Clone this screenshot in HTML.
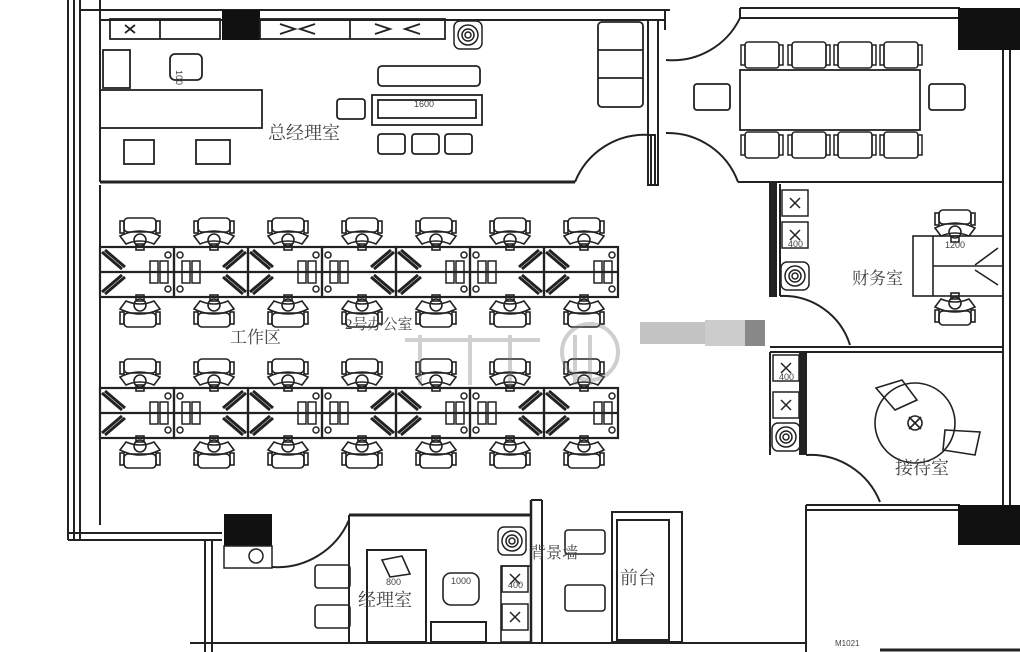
<!DOCTYPE html>
<html><head><meta charset="utf-8"><style>
html,body{margin:0;padding:0;background:#fff;}
svg{display:block;}
text{font-family:"Liberation Serif","Noto Serif CJK SC","Noto Sans CJK SC",serif;fill:#444;}
</style></head><body>
<svg width="1020" height="652" viewBox="0 0 1020 652" xmlns="http://www.w3.org/2000/svg">
<defs>
<g id="chU" fill="none" stroke="#222" stroke-width="1.6">
<rect x="-16" y="0" width="32" height="14" rx="4"/>
<rect x="-20" y="3" width="4" height="12"/><rect x="16" y="3" width="4" height="12"/>
<path d="M-20 18 Q0 8 20 18 L14 26 Q0 20 -14 26 Z"/>
<circle cx="0" cy="22" r="6"/>
<rect x="-4" y="26" width="8" height="6"/>
</g>
<g id="unit" fill="none" stroke="#222" stroke-width="2.2">
<rect x="0" y="0" width="74" height="50"/>
<line x1="0" y1="25" x2="74" y2="25"/>
<path d="M2 5 L22 22 M2 45 L22 28 M5 3 L25 20 M5 47 L25 30" stroke-width="3"/>
<rect x="50" y="14" width="8" height="22" stroke-width="1.5"/><rect x="60" y="14" width="8" height="22" stroke-width="1.5"/>
<circle cx="68" cy="8" r="3" stroke-width="1.5"/><circle cx="68" cy="42" r="3" stroke-width="1.5"/>
</g>
<g id="unit2" fill="none" stroke="#222" stroke-width="2.2">
<rect x="0" y="0" width="74" height="50"/>
<line x1="0" y1="25" x2="74" y2="25"/>
<path d="M72 5 L52 22 M72 45 L52 28 M69 3 L49 20 M69 47 L49 30" stroke-width="3"/>
<rect x="8" y="14" width="8" height="22" stroke-width="1.5"/><rect x="18" y="14" width="8" height="22" stroke-width="1.5"/>
<circle cx="6" cy="8" r="3" stroke-width="1.5"/><circle cx="6" cy="42" r="3" stroke-width="1.5"/>
</g>
<g id="cab" fill="none" stroke="#222" stroke-width="1.5">
<rect x="0" y="0" width="26" height="26"/><path d="M8 8 L18 18 M18 8 L8 18"/>
</g>
<g id="plant" fill="none" stroke="#222" stroke-width="1.5">
<rect x="-14" y="-14" width="28" height="28" rx="6"/><circle r="10"/><circle r="6"/><circle r="3"/>
</g>
<g id="sq" fill="none" stroke="#222" stroke-width="1.5">
<rect x="0" y="0" width="34" height="26" rx="3"/><rect x="-4" y="3" width="4" height="20"/><rect x="34" y="3" width="4" height="20"/>
</g>
</defs>

<g fill="none" stroke="#222" stroke-width="2">
<line x1="68" y1="0" x2="68" y2="540"/><line x1="74" y1="0" x2="74" y2="540"/><line x1="80" y1="0" x2="80" y2="540"/>
<line x1="100" y1="0" x2="100" y2="182"/><line x1="100" y1="185" x2="100" y2="525"/>
<line x1="68" y1="540" x2="222" y2="540"/><line x1="68" y1="533" x2="222" y2="533"/>
<line x1="80" y1="10" x2="670" y2="10"/><line x1="100" y1="20" x2="665" y2="20"/>
<line x1="665" y1="10" x2="665" y2="30"/>
<line x1="100" y1="182" x2="575" y2="182" stroke-width="3"/>
<path d="M575 182 A75 75 0 0 1 650 135"/>
<rect x="648" y="20" width="10" height="165" stroke-width="2"/>
<rect x="651" y="135" width="4" height="50"/>
<line x1="740" y1="8" x2="960" y2="8"/><line x1="740" y1="18" x2="960" y2="18"/>
<path d="M666 60 A75 75 0 0 0 740 18"/>
<line x1="740" y1="18" x2="740" y2="8"/>
<line x1="1003" y1="50" x2="1003" y2="505"/><line x1="1010" y1="50" x2="1010" y2="505"/>
<path d="M666 133 A75 75 0 0 1 738 182"/>
<line x1="738" y1="182" x2="1003" y2="182"/>
<rect x="770" y="184" width="6" height="112" fill="#222"/>
<line x1="780" y1="184" x2="780" y2="296"/>
<path d="M780 296 A70 70 0 0 1 850 345"/>
<line x1="770" y1="347" x2="1003" y2="347"/><line x1="770" y1="352" x2="1003" y2="352"/>
<line x1="770" y1="352" x2="770" y2="455"/>
<rect x="800" y="352" width="6" height="102" fill="#222"/>
<path d="M806 455 A75 75 0 0 1 880 502"/>
<line x1="806" y1="505" x2="960" y2="505"/><line x1="806" y1="510" x2="960" y2="510"/>
<line x1="806" y1="505" x2="806" y2="652"/>
<!-- bottom -->
<line x1="205" y1="540" x2="205" y2="652"/><line x1="212" y1="540" x2="212" y2="652"/>
<path d="M272 567 A78 78 0 0 0 349 520"/>
<line x1="349" y1="515" x2="531" y2="515" stroke-width="3"/>
<line x1="349" y1="515" x2="349" y2="642"/>
<line x1="531" y1="500" x2="531" y2="642" stroke-width="2.5"/><line x1="542" y1="500" x2="542" y2="642"/>
<line x1="531" y1="500" x2="542" y2="500"/>
<line x1="190" y1="643" x2="805" y2="643"/>
<rect x="612" y="512" width="70" height="130"/><rect x="617" y="520" width="52" height="120"/>
<rect x="367" y="550" width="59" height="92"/>
<rect x="431" y="622" width="55" height="20"/>
</g>

<rect x="222" y="10" width="38" height="30" fill="#111"/>
<rect x="958" y="8" width="62" height="42" fill="#111"/>
<rect x="958" y="505" width="62" height="40" fill="#111"/>
<rect x="224" y="514" width="48" height="32" fill="#111"/>
<rect x="224" y="546" width="48" height="22" fill="none" stroke="#222" stroke-width="1.5"/>
<circle cx="256" cy="556" r="7" fill="none" stroke="#222" stroke-width="1.5"/>

<g fill="none" stroke="#222" stroke-width="1.8">
<rect x="110" y="19" width="110" height="20"/><line x1="160" y1="19" x2="160" y2="39"/>
<rect x="260" y="19" width="185" height="20"/><line x1="350" y1="19" x2="350" y2="39"/>
<path d="M280 24 L295 29 L280 34 M315 24 L300 29 L315 34 M375 24 L390 29 L375 34 M420 24 L405 29 L420 34 M125 25 L135 33 M135 25 L125 33"/>
<rect x="103" y="50" width="27" height="38"/>
<rect x="100" y="90" width="162" height="38"/>
<rect x="170" y="54" width="32" height="26" rx="5"/>
<rect x="124" y="140" width="30" height="24"/><rect x="196" y="140" width="34" height="24"/>
<rect x="378" y="66" width="102" height="20" rx="4"/>
<rect x="372" y="95" width="110" height="30"/><rect x="378" y="100" width="98" height="18"/>
<rect x="337" y="99" width="28" height="20" rx="3"/>
<rect x="378" y="134" width="27" height="20" rx="3"/><rect x="412" y="134" width="27" height="20" rx="3"/><rect x="445" y="134" width="27" height="20" rx="3"/>
<rect x="598" y="22" width="45" height="85" rx="4"/><line x1="598" y1="50" x2="643" y2="50"/><line x1="598" y1="78" x2="643" y2="78"/>
</g>
<use href="#plant" x="468" y="35"/>
<text x="180" y="74" font-size="9" transform="rotate(90 180 70)" style="font-family:'Liberation Sans',sans-serif">100</text>
<text x="414" y="107" font-size="9" style="font-family:'Liberation Sans',sans-serif">1600</text>
<text x="268" y="139" font-size="18">总经理室</text>

<g fill="none" stroke="#222" stroke-width="1.8">
<rect x="740" y="70" width="180" height="60"/>
<use href="#sq" x="745" y="42"/><use href="#sq" x="792" y="42"/><use href="#sq" x="838" y="42"/><use href="#sq" x="884" y="42"/>
<use href="#sq" x="745" y="132"/><use href="#sq" x="792" y="132"/><use href="#sq" x="838" y="132"/><use href="#sq" x="884" y="132"/>
<rect x="694" y="84" width="36" height="26" rx="3"/><rect x="929" y="84" width="36" height="26" rx="3"/>
</g>

<use href="#cab" x="782" y="190"/><use href="#cab" x="782" y="222"/>
<use href="#plant" x="795" y="276"/>
<g fill="none" stroke="#222" stroke-width="1.6">
<rect x="913" y="236" width="90" height="60"/><line x1="933" y1="236" x2="933" y2="296"/><line x1="933" y1="266" x2="1003" y2="266"/>
<path d="M975 265 L998 248 M975 270 L998 285"/>
</g>
<use href="#chU" x="955" y="210"/>
<use href="#chU" transform="translate(955 325) scale(1 -1)"/>
<text x="788" y="247" font-size="9" style="font-family:'Liberation Sans',sans-serif">400</text>
<text x="945" y="248" font-size="9" style="font-family:'Liberation Sans',sans-serif">1200</text>
<text x="852" y="284" font-size="17">财务室</text>

<use href="#cab" x="773" y="355"/><use href="#cab" x="773" y="392"/>
<use href="#plant" x="786" y="437"/>
<g fill="none" stroke="#222" stroke-width="1.6">
<circle cx="915" cy="423" r="40"/><circle cx="915" cy="423" r="7"/><path d="M909 417 L921 429 M921 417 L909 429"/>
<path d="M876 388 L902 380 L917 400 L895 410 Z"/>
<path d="M945 430 L980 432 L975 455 L943 450 Z"/>
</g>
<text x="779" y="380" font-size="9" style="font-family:'Liberation Sans',sans-serif">400</text>
<text x="895" y="474" font-size="18">接待室</text>

<g id="rowA">
<use href="#unit" x="100" y="247"/><use href="#unit2" x="174" y="247"/><use href="#unit" x="248" y="247"/><use href="#unit2" x="322" y="247"/><use href="#unit" x="396" y="247"/><use href="#unit2" x="470" y="247"/><use href="#unit" x="544" y="247"/>
<use href="#chU" x="140" y="218"/><use href="#chU" x="214" y="218"/><use href="#chU" x="288" y="218"/><use href="#chU" x="362" y="218"/><use href="#chU" x="436" y="218"/><use href="#chU" x="510" y="218"/><use href="#chU" x="584" y="218"/>
<use href="#chU" transform="translate(140 327) scale(1 -1)"/><use href="#chU" transform="translate(214 327) scale(1 -1)"/><use href="#chU" transform="translate(288 327) scale(1 -1)"/><use href="#chU" transform="translate(362 327) scale(1 -1)"/><use href="#chU" transform="translate(436 327) scale(1 -1)"/><use href="#chU" transform="translate(510 327) scale(1 -1)"/><use href="#chU" transform="translate(584 327) scale(1 -1)"/>
</g>
<use href="#rowA" y="141"/>
<text x="230" y="343" font-size="17">工作区</text>
<text x="345" y="329" font-size="15" fill="#666">2号办公室</text>
<g opacity="0.35" fill="none" stroke="#777" stroke-width="4">
<circle cx="590" cy="352" r="28"/><path d="M405 340 L540 340 M420 335 L420 385 M470 335 L470 385 M510 335 L510 385 M575 335 L575 385 M590 335 L590 385"/>
</g>
<rect x="640" y="322" width="125" height="22" fill="#aaa" opacity="0.7"/>
<rect x="705" y="320" width="40" height="26" fill="#ccc"/>
<rect x="745" y="320" width="20" height="26" fill="#888"/>

<!-- bottom furniture -->
<use href="#plant" x="512" y="541"/>
<use href="#cab" x="502" y="566"/><use href="#cab" x="502" y="604"/>
<g fill="none" stroke="#222" stroke-width="1.6">
<rect x="501" y="566" width="30" height="76"/>
<rect x="565" y="530" width="40" height="24" rx="3"/><rect x="565" y="585" width="40" height="26" rx="3"/>
<rect x="315" y="565" width="35" height="23" rx="3"/><rect x="315" y="605" width="35" height="23" rx="3"/>
<rect x="443" y="573" width="36" height="32" rx="8"/>
<path d="M382 560 L402 556 L410 574 L390 577 Z"/>
</g>
<text x="386" y="585" font-size="9" style="font-family:'Liberation Sans',sans-serif">800</text>
<text x="451" y="584" font-size="9" style="font-family:'Liberation Sans',sans-serif">1000</text>
<text x="508" y="588" font-size="9" style="font-family:'Liberation Sans',sans-serif">400</text>
<text x="530" y="558" font-size="16" fill="#666">背景墙</text>
<text x="620" y="584" font-size="18">前台</text>
<text x="358" y="606" font-size="18">经理室</text>
<text x="835" y="646" font-size="8" style="font-family:'Liberation Sans',sans-serif">M1021</text>
<line x1="880" y1="650" x2="1020" y2="650" stroke="#222" stroke-width="3"/>
</svg>
</body></html>
